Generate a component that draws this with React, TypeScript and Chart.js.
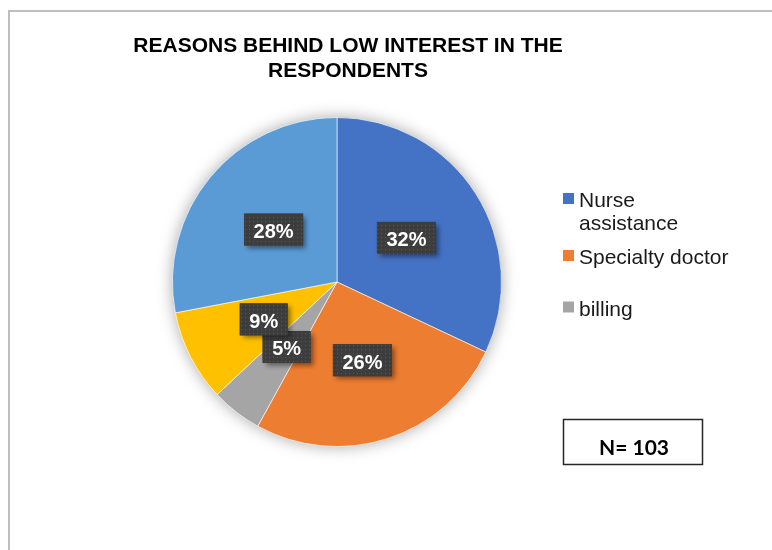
import React, { useEffect, useRef } from "react";
import { Chart, registerables } from "chart.js";

Chart.register(...registerables);

const categories = ["Nurse assistance", "Specialty doctor", "billing", "Category 4", "Category 5"];
const percentages = [32, 26, 5, 9, 28];
const sliceColors = ["#4472C4", "#ED7D31", "#A5A5A5", "#FFC000", "#5B9BD5"];
const titleLines = ["REASONS BEHIND LOW INTEREST IN THE", "RESPONDENTS"];
const sampleNote = "N= 103";
const legendShown = 3;

const SANS = "'Liberation Sans', Arial, sans-serif";

function makePattern(ctx: CanvasRenderingContext2D) {
  const c = document.createElement("canvas");
  c.width = 4;
  c.height = 4;
  const p = c.getContext("2d")!;
  p.fillStyle = "#3d3d3d";
  p.fillRect(0, 0, 4, 4);
  p.fillStyle = "#585858";
  p.fillRect(1, 1, 1, 1);
  return ctx.createPattern(c, "repeat");
}

function wrap(ctx: CanvasRenderingContext2D, text: string, maxW: number): string[] {
  const words = text.split(" ");
  const lines: string[] = [];
  let cur = "";
  for (const w of words) {
    const t = cur ? cur + " " + w : w;
    if (ctx.measureText(t).width > maxW && cur) {
      lines.push(cur);
      cur = w;
    } else cur = t;
  }
  if (cur) lines.push(cur);
  return lines;
}

const decor = {
  id: "decor",
  beforeDraw(chart: any) {
    const ctx: CanvasRenderingContext2D = chart.ctx;
    ctx.save();
    ctx.fillStyle = "#ffffff";
    ctx.fillRect(0, 0, chart.width, chart.height);
    ctx.strokeStyle = "#bfbfbf";
    ctx.lineWidth = 2;
    ctx.strokeRect(9, 11, chart.width + 40, chart.height + 40);
    ctx.fillStyle = "#000000";
    ctx.font = `bold 21px ${SANS}`;
    ctx.textAlign = "center";
    ctx.textBaseline = "alphabetic";
    titleLines.forEach((l, i) => ctx.fillText(l, 348, 52 + i * 25));
    ctx.restore();
  },
  beforeDatasetsDraw(chart: any) {
    const ctx: CanvasRenderingContext2D = chart.ctx;
    const arc = chart.getDatasetMeta(0).data[0];
    if (!arc) return;
    ctx.save();
    ctx.shadowColor = "rgba(0,0,0,0.35)";
    ctx.shadowBlur = 16;
    ctx.fillStyle = "#ffffff";
    ctx.beginPath();
    ctx.arc(arc.x, arc.y, arc.outerRadius, 0, Math.PI * 2);
    ctx.fill();
    ctx.restore();
  },
  afterDatasetsDraw(chart: any) {
    const ctx: CanvasRenderingContext2D = chart.ctx;
    const meta = chart.getDatasetMeta(0);
    const values = chart.data.datasets[0].data as number[];
    const pattern = makePattern(ctx);
    ctx.save();
    ctx.font = `bold 20px ${SANS}`;
    meta.data.forEach((arc: any, i: number) => {
      const c = arc.getCenterPoint();
      const txt = `${values[i]}%`;
      const tw = ctx.measureText(txt).width;
      const bw = tw + 19;
      const bh = 32;
      const bx = c.x - bw / 2;
      const by = c.y - bh / 2;
      ctx.save();
      ctx.shadowColor = "rgba(0,0,0,0.45)";
      ctx.shadowBlur = 5;
      ctx.shadowOffsetX = 3;
      ctx.shadowOffsetY = 3;
      ctx.fillStyle = "#3d3d3d";
      ctx.fillRect(bx, by, bw, bh);
      ctx.restore();
      ctx.fillStyle = pattern || "#3d3d3d";
      ctx.fillRect(bx, by, bw, bh);
      ctx.fillStyle = "#ffffff";
      ctx.textAlign = "center";
      ctx.textBaseline = "alphabetic";
      ctx.fillText(txt, c.x, c.y + 8.5);
    });
    ctx.restore();
  },
  afterDraw(chart: any) {
    const ctx: CanvasRenderingContext2D = chart.ctx;
    const labels = chart.data.labels as string[];
    const colors = chart.data.datasets[0].backgroundColor as string[];
    const slotY = [198.5, 255.5, 307];
    ctx.save();
    ctx.font = `21px ${SANS}`;
    ctx.textAlign = "left";
    ctx.textBaseline = "alphabetic";
    for (let i = 0; i < legendShown; i++) {
      const cy = slotY[i];
      ctx.fillStyle = colors[i];
      ctx.fillRect(563, cy - 5.5, 11, 11);
      ctx.fillStyle = "#1a1a1a";
      const lines = wrap(ctx, labels[i], 156);
      lines.forEach((l, k) => ctx.fillText(l, 579, cy + 8.5 + k * 22.5));
    }
    // N box
    ctx.strokeStyle = "#262626";
    ctx.lineWidth = 1.5;
    ctx.strokeRect(563.5, 419.5, 139, 45);
    ctx.fillStyle = "#000000";
    ctx.font = `bold 21px Lato, ${SANS}`;
    ctx.textAlign = "center";
    ctx.fillText(sampleNote, 634, 455);
    ctx.restore();
  },
};

export default function App() {
  const ref = useRef<HTMLCanvasElement | null>(null);
  useEffect(() => {
    if (!ref.current) return;
    const chart = new Chart(ref.current, {
      type: "pie",
      data: {
        labels: categories,
        datasets: [
          {
            data: percentages,
            backgroundColor: sliceColors,
            borderColor: "rgba(255,255,255,0.6)",
            borderWidth: 1,
          },
        ],
      },
      options: {
        responsive: false,
        animation: false,
        devicePixelRatio: 1,
        layout: { padding: { left: 172, right: 270, top: 117, bottom: 103 } },
        plugins: {
          legend: { display: false },
          title: { display: false },
          tooltip: { enabled: false },
        },
      },
      plugins: [decor],
    });
    return () => chart.destroy();
  }, []);
  return (
    <div style={{ position: "absolute", left: 0, top: 0, width: 772, height: 550, overflow: "hidden" }}>
      <canvas ref={ref} width={772} height={550} />
    </div>
  );
}
